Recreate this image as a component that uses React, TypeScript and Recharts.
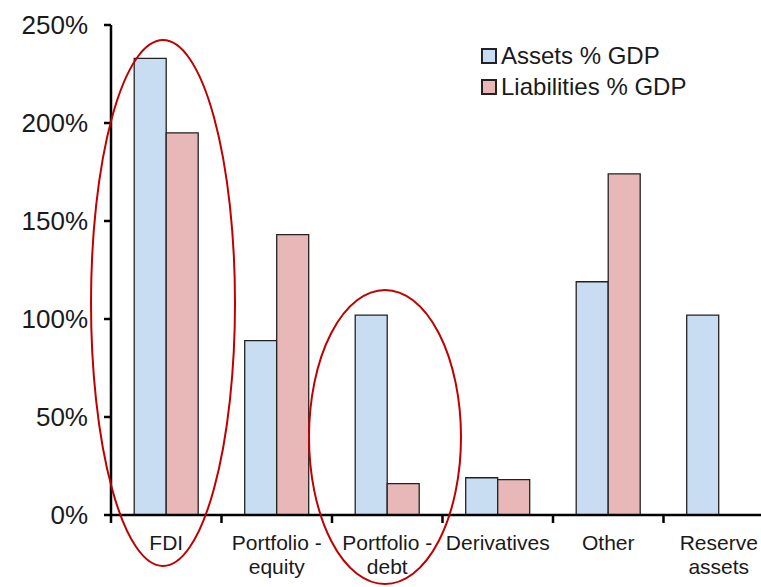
import React from 'react'
import { BarChart, Bar, XAxis, YAxis, Legend } from 'recharts'

const CATEGORIES = ['FDI', 'Portfolio -\nequity', 'Portfolio -\ndebt', 'Derivatives', 'Other', 'Reserve\nassets']
const ASSETS = [233, 89, 102, 19, 119, 102]
const LIABILITIES: (number | null)[] = [195, 143, 16, 18, 174, null]
const Y_TICKS = [0, 50, 100, 150, 200, 250]

const SERIES = [
  { key: 'assets', name: 'Assets % GDP', color: '#c8ddf1' },
  { key: 'liabilities', name: 'Liabilities % GDP', color: '#e8b7b7' },
]

const FONT = '"Liberation Sans", Arial, sans-serif'
const CHART_W = 800
const CHART_H = 587
const MARGIN = { top: 25, right: 26, left: 0, bottom: 0 }
const Y_AXIS_W = 111
const X_AXIS_H = 72
const AXIS_Y = CHART_H - X_AXIS_H - MARGIN.bottom
const BAND = (CHART_W - MARGIN.left - MARGIN.right - Y_AXIS_W) / CATEGORIES.length

const data = CATEGORIES.map((c, i) => ({
  category: c,
  assets: ASSETS[i],
  liabilities: LIABILITIES[i],
}))

function CategoryTick(props: any) {
  const { x, payload, index } = props
  const lines = String(payload.value).split('\n')
  const half = BAND / 2
  return (
    <g>
      <line x1={x - half} x2={x - half} y1={AXIS_Y} y2={AXIS_Y + 8} stroke="#000" strokeWidth={2.5} />
      {index === CATEGORIES.length - 1 && (
        <line x1={x + half} x2={x + half} y1={AXIS_Y} y2={AXIS_Y + 8} stroke="#000" strokeWidth={2.5} />
      )}
      <text x={x} y={AXIS_Y + 35} textAnchor="middle" fontSize={21} fill="#1a1a1a" fontFamily={FONT}>
        {lines.map((l, i) => (
          <tspan key={i} x={x} dy={i === 0 ? 0 : 24}>
            {l}
          </tspan>
        ))}
      </text>
    </g>
  )
}

function LegendBox() {
  return (
    <div style={{ fontFamily: FONT, fontSize: 24, color: '#1a1a1a' }}>
      {SERIES.map(s => (
        <div key={s.key} style={{ display: 'flex', alignItems: 'center', height: 31, whiteSpace: 'nowrap' }}>
          <span
            style={{
              display: 'inline-block',
              width: 12,
              height: 12,
              border: '2px solid #222',
              background: s.color,
              marginRight: 4,
            }}
          />
          {s.name}
        </div>
      ))}
    </div>
  )
}

export default function App() {
  return (
    <div
      style={{
        position: 'absolute',
        left: 0,
        top: 0,
        width: 761,
        height: 587,
        overflow: 'hidden',
        background: '#fff',
      }}
    >
      <BarChart width={CHART_W} height={CHART_H} data={data} margin={MARGIN} barCategoryGap="21%" barGap={0}>
        <XAxis
          dataKey="category"
          height={X_AXIS_H}
          interval={0}
          tickLine={false}
          axisLine={{ stroke: '#000', strokeWidth: 2.5 }}
          tick={<CategoryTick />}
        />
        <YAxis
          width={Y_AXIS_W}
          domain={[0, 250]}
          ticks={Y_TICKS}
          tickFormatter={(v: number) => `${v}%`}
          tickSize={7}
          tickMargin={16}
          axisLine={{ stroke: '#000', strokeWidth: 2.5 }}
          tickLine={{ stroke: '#000', strokeWidth: 2.5 }}
          tick={{ fontSize: 26, fill: '#1a1a1a', fontFamily: FONT }}
        />
        <Legend
          layout="vertical"
          align="center"
          verticalAlign="middle"
          wrapperStyle={{ left: 481, top: 40, width: 'auto' }}
          content={<LegendBox />}
        />
        {SERIES.map(s => (
          <Bar
            key={s.key}
            dataKey={s.key}
            name={s.name}
            fill={s.color}
            stroke="#222"
            strokeWidth={1.3}
            isAnimationActive={false}
          />
        ))}
      </BarChart>
      <svg
        width={761}
        height={587}
        style={{ position: 'absolute', left: 0, top: 0, pointerEvents: 'none' }}
      >
        <ellipse cx={163} cy={303} rx={72} ry={263} fill="none" stroke="#c00000" strokeWidth={2} />
        <ellipse cx={385} cy={437} rx={76} ry={147} fill="none" stroke="#c00000" strokeWidth={2} />
      </svg>
    </div>
  )
}
